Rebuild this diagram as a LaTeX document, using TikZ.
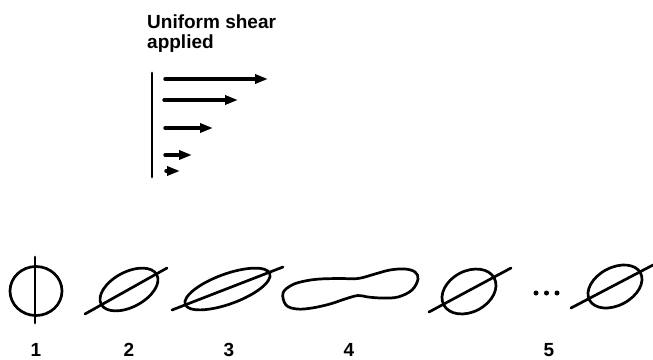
\documentclass[tikz,border=0pt]{standalone}
\usepackage{fontspec}
\setmainfont{Liberation Sans}
\usetikzlibrary{arrows.meta}
\begin{document}
\begin{tikzpicture}[x=1pt,y=-1pt, line cap=round, line join=round,
  outline/.style={line width=2.7pt},
  shearbar/.style={line width=2.8pt},
  sheararrow/.style={line width=3.4pt, -{Triangle[length=13pt,width=9pt]}},
  txt/.style={font=\fontsize{19}{20}\selectfont\bfseries, anchor=base west, inner sep=0pt},
  lbl/.style={font=\fontsize{19}{20}\selectfont\bfseries, anchor=base, inner sep=0pt},
  dot/.style={circle, fill=black, inner sep=0pt, minimum size=5pt}]
\useasboundingbox (0,0) rectangle (653,359);

% title
\node[txt] (t1) at (147,28) {Uniform shear};
\node[txt] (t2) at (147,48.5) {applied};

% shear profile
\coordinate (bartop) at (152,73);
\coordinate (barbot) at (152,177);
\draw[shearbar] (bartop) -- (barbot);
\coordinate (a1s) at (165,79);  \coordinate (a1e) at (268,79);
\coordinate (a2s) at (164,100); \coordinate (a2e) at (238,100);
\coordinate (a3s) at (165,128); \coordinate (a3e) at (213,128);
\coordinate (a4s) at (165,155); \coordinate (a4e) at (192,155);
\coordinate (a5s) at (166,171); \coordinate (a5e) at (180,171);
\draw[sheararrow] (a1s) -- (a1e);
\draw[sheararrow] (a2s) -- (a2e);
\draw[sheararrow] (a3s) -- (a3e);
\draw[sheararrow] (a4s) -- (a4e);
\draw[sheararrow] (a5s) -- (a5e);

% shape 1: circle with vertical line
\draw[outline] (36,291) ellipse [x radius=26pt, y radius=24.5pt];
\coordinate (l1a) at (35,257); \coordinate (l1b) at (35,323);
\draw[outline] (l1a) -- (l1b);

% shape 2
\draw[outline, rotate around={28:(129,289.5)}] (129,289.5) ellipse [x radius=31.5pt, y radius=17.5pt];
\coordinate (l2a) at (85,314); \coordinate (l2b) at (167,268);
\draw[outline] (l2a) -- (l2b);

% shape 3
\draw[outline, rotate around={20:(227.5,289)}] (227.5,289) ellipse [x radius=45pt, y radius=15pt];
\coordinate (l3a) at (172,310); \coordinate (l3b) at (283,267);
\draw[outline] (l3a) -- (l3b);

% shape 4: peanut
\draw[outline] plot[smooth cycle, tension=0.6] coordinates {
  (283,293) (292,285) (305,281) (320,279) (340,278.5) (358,278.5)
  (375,274) (390,270) (405,269) (415,272) (418,279) (412,290) (398,297)
  (382,298) (368,297) (358,295.5) (345,299) (330,304) (312,308) (297,309) (286,305)};

% shape 5a
\draw[outline, rotate around={28:(469,291.5)}] (469,291.5) ellipse [x radius=28.6pt, y radius=20.4pt];
\coordinate (l5a) at (429,312); \coordinate (l5b) at (511,268);
\draw[outline] (l5a) -- (l5b);

% dots
\node[dot] (d1) at (536,293) {};
\node[dot] (d2) at (546.5,293) {};
\node[dot] (d3) at (557,293) {};

% shape 5b
\draw[outline, rotate around={28:(615,286.5)}] (615,286.5) ellipse [x radius=28.9pt, y radius=18.9pt];
\coordinate (l6a) at (571,308); \coordinate (l6b) at (653,265);
\draw[outline] (l6a) -- (l6b);

% labels
\node[lbl] (n1) at (36,356) {1};
\node[lbl] (n2) at (129,356) {2};
\node[lbl] (n3) at (229,356) {3};
\node[lbl] (n4) at (349,356) {4};
\node[lbl] (n5) at (549,356) {5};
\end{tikzpicture}
\end{document}
